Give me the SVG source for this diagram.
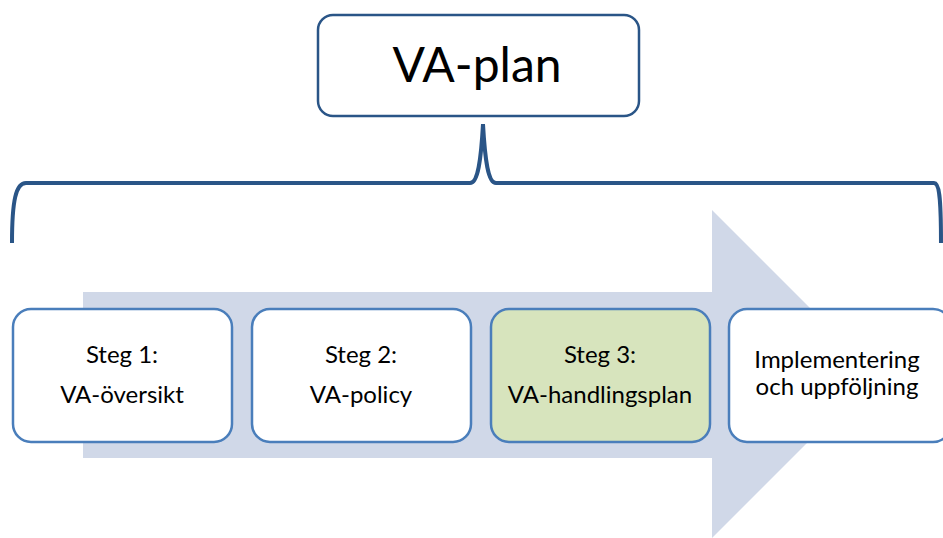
<svg xmlns="http://www.w3.org/2000/svg" width="943" height="538" viewBox="0 0 943 538">
<style>
.step{fill:#ffffff;stroke:#4A7EBB;stroke-width:2.5}
.lbl{font-family:Lato,"Open Sans",sans-serif;font-size:24px;fill:#000;text-anchor:middle}
</style>
<rect width="943" height="538" fill="#ffffff"/>
<g id="arrow">
<polygon points="83,292 712,292 712,210 876,374 712,538 712,458 83,458" fill="#D0D8E8"/>
</g>
<g id="top">
<rect x="318" y="15" width="321" height="101" rx="15" fill="#ffffff" stroke="#2A5587" stroke-width="2.5"/>
<text x="477" y="82" font-family="Lato,'Open Sans',sans-serif" font-size="48" text-anchor="middle" fill="#000">VA-plan</text>
</g>
<g id="connectors">
<path d="M12,243 C12,200 16,183 26,183 L470,183 C478,183 481,160 483,124 C485,160 488,183 496,183 L934,183 C939,183 941,195 941,243" fill="none" stroke="#2A5587" stroke-width="4"/>
</g>
<g id="step1">
<rect class="step" x="13" y="309" width="219" height="133" rx="18"/>
<text class="lbl" x="122" y="363">Steg 1:</text>
<text class="lbl" x="122" y="403">VA-översikt</text>
</g>
<g id="step2">
<rect class="step" x="252" y="309" width="219" height="133" rx="18"/>
<text class="lbl" x="361" y="363">Steg 2:</text>
<text class="lbl" x="361" y="403">VA-policy</text>
</g>
<g id="step3">
<rect class="step" x="491" y="309" width="219" height="133" rx="18" style="fill:#D7E4BD"/>
<text class="lbl" x="600" y="363">Steg 3:</text>
<text class="lbl" x="600" y="403">VA-handlingsplan</text>
</g>
<g id="step4">
<rect class="step" x="729" y="309" width="222" height="133" rx="18"/>
<text class="lbl" x="837" y="368">Implementering</text>
<text class="lbl" x="837" y="395">och uppföljning</text>
</g>
</svg>
